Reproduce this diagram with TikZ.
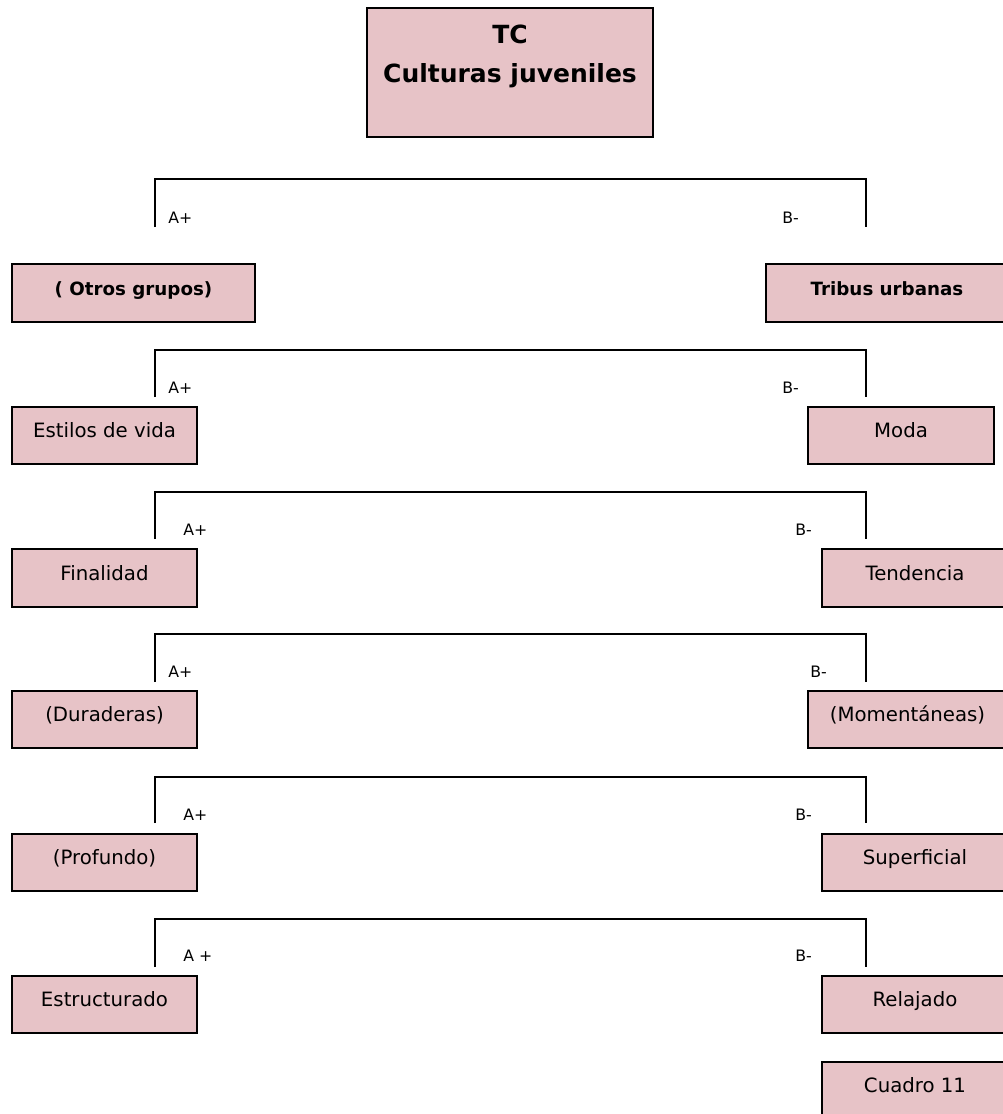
\documentclass[tikz,border=0pt]{standalone}
\usepackage{fontspec}
\setmainfont{DejaVu Sans}
\definecolor{boxpink}{RGB}{231,195,199}
\begin{document}
\begin{tikzpicture}[x=0.75pt,y=-0.75pt,
  box/.style={draw=black, line width=1.4pt, fill=boxpink, inner sep=0pt,
    minimum height=43.125pt, text height=10pt, text depth=7pt,
    font=\fontsize{14.8pt}{17pt}\selectfont},
  boldbox/.style={box, font=\fontsize{13.7pt}{17pt}\selectfont\bfseries},
  lbl/.style={anchor=base west, inner sep=0pt, font=\fontsize{11.8pt}{13pt}\selectfont},
  brk/.style={line width=1.4pt}]
\useasboundingbox (0,0) rectangle (1003,1114);
\clip (0,0) rectangle (1003,1114);

% title
\node[draw=black, line width=1.4pt, fill=boxpink, inner sep=0pt,
  minimum width=214.5pt, minimum height=96.75pt, text height=15pt, text depth=59.25pt,
  font=\fontsize{18.75pt}{29.25pt}\selectfont\bfseries] (tc) at (510,72.5)
  {\begin{tabular}[t]{@{}c@{}}TC\\Culturas juveniles\end{tabular}};

% boxes
\node[boldbox, minimum width=182.25pt] (otros) at (133.5,293) {( Otros grupos)};
\node[boldbox, minimum width=181.5pt] (tribus) at (887,293) {Tribus urbanas};
\node[box, minimum width=138.75pt] (estilos) at (104.5,435.5) {Estilos de vida};
\node[box, minimum width=139.5pt] (moda) at (901,435.5) {Moda};
\node[box, minimum width=138.75pt] (finalidad) at (104.5,578) {Finalidad};
\node[box, minimum width=139.5pt] (tendencia) at (915,578) {Tendencia};
\node[box, minimum width=138.75pt] (duraderas) at (104.5,719.5) {(Duraderas)};
\node[box, minimum width=149.25pt] (momentaneas) at (907.5,719.5) {(Momentáneas)};
\node[box, minimum width=138.75pt] (profundo) at (104.5,862.5) {(Profundo)};
\node[box, minimum width=139.5pt] (superficial) at (915,862.5) {Superficial};
\node[box, minimum width=138.75pt] (estructurado) at (104.5,1004.5) {Estructurado};
\node[box, minimum width=139.5pt] (relajado) at (915,1004.5) {Relajado};
\node[box, minimum width=139.5pt] (cuadro) at (915,1090.5) {Cuadro 11};

% brackets
\foreach \i/\t/\b in {1/179/227, 2/350/397, 3/492/539, 4/634/682, 5/777/823, 6/919/967}{
  \coordinate (bl\i) at (155,\b);
  \coordinate (br\i) at (866,\b);
  \coordinate (tl\i) at (155,\t);
  \coordinate (tr\i) at (866,\t);
  \draw[brk] (bl\i) -- (tl\i) -- (tr\i) -- (br\i);
}

% labels
\node[lbl] (a1) at (168,223) {A+};
\node[lbl] (b1) at (782,223) {B-};
\node[lbl] (a2) at (168,393) {A+};
\node[lbl] (b2) at (782,393) {B-};
\node[lbl] (a3) at (183,535) {A+};
\node[lbl] (b3) at (795,535) {B-};
\node[lbl] (a4) at (168,677) {A+};
\node[lbl] (b4) at (810,677) {B-};
\node[lbl] (a5) at (183,820) {A+};
\node[lbl] (b5) at (795,820) {B-};
\node[lbl] (a6) at (183,961) {A +};
\node[lbl] (b6) at (795,961) {B-};
\end{tikzpicture}
\end{document}
